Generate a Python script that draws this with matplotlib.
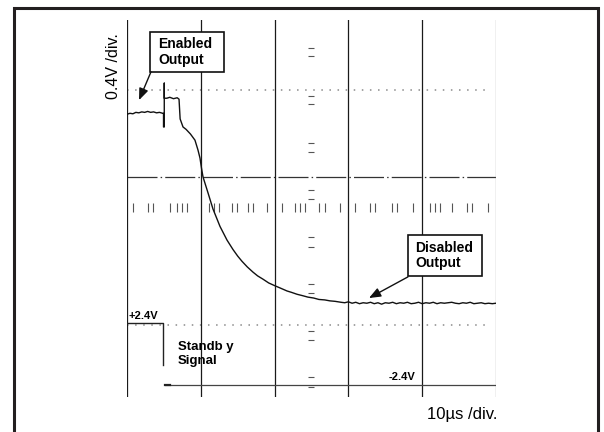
import matplotlib
matplotlib.use("Agg")
import matplotlib.pyplot as plt
from matplotlib.patches import Rectangle

plt.rcParams['font.family'] = ['Liberation Sans', 'DejaVu Sans']

# ---- data (time in microseconds, level in screen divisions, 0 = bottom) ----
grid_t = [0, 10, 20, 30, 40, 50]

out_t = [0, 0.4, 0.8, 1.2, 1.6, 2.0, 2.4, 2.8, 3.2, 3.6, 4.0, 4.4, 4.85,
         4.95, 4.95, 5.05, 5.05, 5.05,
         5.4, 5.8, 6.3, 6.8, 7.05,
         7.2, 7.59, 8.0, 8.6, 9.21, 9.62, 9.89, 10.1, 10.3, 10.98, 11.65,
         12.6, 13.55, 14.36, 15.0, 15.58, 16.3, 17.07, 17.7, 18.43, 19.2,
         20.05, 20.8, 21.68, 22.3, 23.04, 23.8, 24.5, 25.3, 26.0, 26.8,
         27.5, 28.2, 29.0,
         29.5, 30, 30.5, 31, 31.5, 32, 32.5, 33, 33.5, 34, 34.5,
         35, 35.5, 36, 36.5, 37, 37.5, 38, 38.5, 39, 39.5, 40, 40.5, 41,
         41.5, 42, 42.5, 43, 43.5, 44, 44.5, 45, 45.5, 46, 46.5, 47, 47.5,
         48, 48.5, 49, 49.5, 50]
out_v = [6.00, 6.02, 6.01, 6.04, 6.03, 6.05, 6.04, 6.06, 6.04, 6.05, 6.03, 6.04, 6.02,
         6.02, 5.73, 5.73, 6.66, 6.34,
         6.34, 6.36, 6.33, 6.35, 6.32,
         5.90, 5.73, 5.68, 5.58, 5.45, 5.24, 5.07, 4.85, 4.67, 4.33, 3.99,
         3.62, 3.33, 3.13, 2.99, 2.88, 2.76, 2.65, 2.57, 2.50, 2.42,
         2.36, 2.31, 2.25, 2.22, 2.18, 2.15, 2.12, 2.10, 2.07, 2.06,
         2.04, 2.03, 2.01,
         2.00, 2.02, 1.99, 2.01, 1.98, 2.00, 1.99, 2.01, 1.98, 2.00, 1.97,
         2.00, 1.99, 2.01, 1.98, 2.00, 1.99, 2.01, 1.98, 1.99, 2.01, 1.98, 2.00, 1.99,
         2.01, 1.98, 2.00, 1.99, 2.00, 2.01, 1.99, 1.98, 2.00, 1.99, 2.01, 1.98, 1.99,
         2.00, 1.98, 1.99, 1.98, 1.99]

standby_hi_t = [0, 4.88, 4.88]
standby_hi_v = [1.57, 1.57, 0.68]
standby_lo_t = [5.15, 50]
standby_lo_v = [0.255, 0.255]

dotted_levels = [6.51, 1.53]
dashdot_level = 4.67

tick_row_t = [0.81, 2.85, 3.52, 5.83, 6.78, 7.45, 8.13, 11.11, 11.79, 12.47,
              14.23, 14.91, 16.40, 17.07, 18.97, 21.0, 22.76, 23.44, 24.12,
              26.02, 26.83, 28.86, 30.89, 32.93, 33.60, 35.91, 36.59, 38.75,
              41.06, 41.73, 42.41, 44.04, 46.07, 46.75, 48.92]
tick_row_lo, tick_row_hi = 3.93, 4.11

center_t = 24.93
center_marks = [7.41, 7.24, 6.39, 6.22, 5.39, 5.20, 4.39, 4.20, 3.40, 3.18,
                2.40, 2.21, 1.40, 1.21, 0.42, 0.21]

# ---- figure ----
fig = plt.figure(figsize=(6.04, 4.32), dpi=100)
fig.patches.append(Rectangle((13.5 / 604, -0.05), (598 - 13.5) / 604, 1.05 - 7.5 / 432,
                             transform=fig.transFigure, fill=False,
                             edgecolor='#231f20', linewidth=2.2, zorder=0))

ax = fig.add_axes([127 / 604, 35 / 432, 369 / 604, 377 / 432])
ax.set_xlim(0, 50)
ax.set_ylim(0, 8)
ax.axis('off')

# graticule
for t in grid_t:
    ax.plot([t, t], [0, 8], color='#888888' if t == 50 else '#1a1a1a', lw=0.9, zorder=2)
for lv in dotted_levels:
    ax.plot([0, 49.3], [lv, lv], color='#8a8a8a', lw=1.1, dashes=(1.0, 4.3), zorder=1)
ax.plot([0, 50], [dashdot_level, dashdot_level], color='#333333', lw=0.9,
        dashes=(24, 2.5, 1.2, 2.5), zorder=1)
ax.vlines(tick_row_t, tick_row_lo, tick_row_hi, color='#555555', lw=0.8, zorder=1)
ax.hlines(center_marks, center_t - 0.35, center_t + 0.35, color='#555555', lw=0.8, zorder=1)

# traces
ax.plot(out_t, out_v, color='#111111', lw=1.0, zorder=3)
ax.plot(standby_hi_t, standby_hi_v, color='#222222', lw=1.0, zorder=3)
ax.plot(standby_lo_t, standby_lo_v, color='#444444', lw=0.9, zorder=3)
ax.plot([5.15, 5.8], [0.245, 0.245], color='#222222', lw=1.6, zorder=3)

# annotation boxes
def label_box(t0, t1, v0, v1, tx, ty, txt):
    ax.add_patch(Rectangle((t0, v0), t1 - t0, v1 - v0, facecolor='white',
                           edgecolor='#111111', lw=1.2, zorder=5))
    ax.text(tx, ty, txt, fontsize=10, fontweight='bold', ha='left', va='center',
            linespacing=1.15, zorder=6)

arrow = dict(arrowstyle='-|>,head_length=0.7,head_width=0.28',
             color='#111111', lw=1.0, shrinkA=0, shrinkB=0)

label_box(3.12, 13.14, 6.90, 7.75, 4.25, 7.32, 'Enabled\nOutput')
ax.annotate('', xy=(1.63, 6.30), xytext=(3.25, 6.90), arrowprops=arrow, zorder=5)
label_box(38.08, 48.1, 2.57, 3.44, 39.1, 3.00, 'Disabled\nOutput')
ax.annotate('', xy=(32.79, 2.10), xytext=(38.08, 2.55), arrowprops=arrow, zorder=5)

ax.text(0.2, 1.66, '+2.4V', fontsize=8, fontweight='bold', ha='left', va='baseline', zorder=5)
ax.text(35.5, 0.36, '-2.4V', fontsize=8, fontweight='bold', ha='left', va='baseline', zorder=5)
ax.text(6.9, 1.19, 'Standb y\nSignal', fontsize=9.5, fontweight='bold', ha='left', va='top',
        linespacing=1.2, zorder=5)

fig.text(113 / 604, 1 - 66 / 432, '0.4V /div.', rotation=90, fontsize=11.5,
         ha='center', va='center')
fig.text(497 / 604, 1 - 414 / 432, '10\u00b5s /div.', fontsize=12, ha='right', va='center')

fig.savefig('out.png', dpi=100)
